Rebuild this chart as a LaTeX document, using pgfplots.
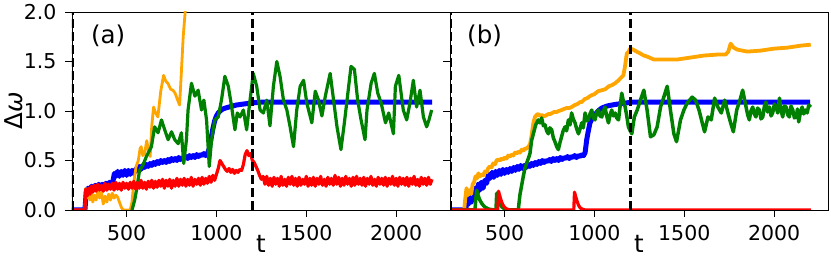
\documentclass[border=0pt]{standalone}
\usepackage{pgfplots}
\pgfplotsset{compat=1.18}
\usepackage{fontspec}
\setmainfont{DejaVu Sans}
\newcommand{\tickf}{\fontsize{20.5}{24}\selectfont}
\newcommand{\labf}{\fontsize{24.5}{28}\selectfont}
\definecolor{mplblue}{RGB}{0,0,255}
\definecolor{mplred}{RGB}{255,0,0}
\definecolor{mplgreen}{RGB}{0,128,0}
\definecolor{mplorange}{RGB}{255,165,0}
\pgfplotsset{
  panel/.style={
    scale only axis, width=378pt, height=198pt,
    xmin=196, xmax=2300, ymin=0, ymax=2,
    xtick={500,1000,1500,2000}, ytick={0,0.5,1,1.5,2},
    tick pos=left, tick align=outside, major tick length=7pt,
    every tick/.style={black, line width=0.8pt},
    axis line style={line width=0.8pt},
    tick label style={font=\tickf},
    label style={font=\labf},
    /pgf/number format/assume math mode=true,
    /pgf/number format/1000 sep={},
    xticklabel style={yshift=-5pt},
    yticklabel style={xshift=-5pt, /pgf/number format/fixed, /pgf/number format/fixed zerofill, /pgf/number format/precision=1},
    xlabel={t},
    xlabel style={at={(axis description cs:0.5,0)}, anchor=base, yshift=-43pt},
    clip=true,
  },
  blu/.style={mplblue, line width=5pt, line join=round},
  ora/.style={mplorange, line width=2.8pt, line join=round},
  gre/.style={mplgreen, line width=3.2pt, line join=round},
  rd/.style={mplred, line width=3.2pt, line join=round},
  vdash/.style={black, line width=2.5pt, dash pattern=on 9pt off 4pt},
}
\begin{document}
\begin{tikzpicture}
\begin{axis}[panel, at={(0pt,0pt)}, anchor=south west,
  ylabel={Δ\textit{ω}},
  ylabel style={at={(axis description cs:-0.132,0.5)}, anchor=base, rotate=0}]
\addplot[blu] coordinates {(196,0)(268,0)(275,0.18)(285,0.22)(295,0.2)(305,0.24)(315,0.21)(325,0.25)(335,0.22)(345,0.26)(355,0.23)(365,0.26)(375,0.24)(385,0.27)(395,0.25)(405,0.28)(415,0.26)(425,0.3)(432,0.37)(440,0.34)(450,0.39)(460,0.34)(470,0.39)(480,0.35)(490,0.4)(500,0.35)(510,0.4)(520,0.36)(530,0.4)(540,0.37)(550,0.41)(560,0.4)(570,0.44)(580,0.41)(590,0.45)(600,0.43)(610,0.46)(620,0.44)(630,0.47)(640,0.45)(650,0.48)(660,0.46)(670,0.49)(680,0.47)(690,0.5)(700,0.48)(710,0.5)(720,0.48)(730,0.51)(740,0.49)(750,0.52)(760,0.5)(770,0.52)(780,0.5)(790,0.53)(800,0.51)(810,0.53)(820,0.52)(830,0.54)(840,0.52)(850,0.55)(860,0.53)(870,0.55)(880,0.53)(890,0.56)(900,0.54)(910,0.56)(920,0.55)(930,0.57)(940,0.55)(950,0.57)(960,0.62)(970,0.72)(980,0.82)(990,0.9)(1000,0.95)(1010,0.98)(1020,1.0)(1035,1.02)(1050,1.03)(1070,1.04)(1090,1.05)(1110,1.06)(1130,1.065)(1150,1.07)(1170,1.075)(1190,1.08)(1220,1.085)(1260,1.09)(2200,1.09)};
\addplot[ora] coordinates {(196,0)(268,0)(272,0.22)(280,0.12)(288,0.2)(296,0.1)(304,0.17)(312,0.08)(320,0.15)(330,0.1)(340,0.2)(350,0.12)(360,0.18)(370,0.06)(380,0.14)(390,0.08)(400,0.16)(410,0.1)(420,0.17)(430,0.12)(440,0.15)(450,0.13)(460,0.08)(470,0.03)(480,0)(520,0)(530,0.08)(540,0.28)(553,0.44)(565,0.5)(575,0.62)(581,0.64)(590,0.55)(600,0.57)(612,0.7)(622,0.6)(631,0.54)(640,0.85)(650,1.04)(662,0.98)(674,0.94)(690,1.2)(706,1.36)(718,1.3)(730,1.28)(745,1.22)(758,1.21)(770,1.18)(782,1.12)(795,1.06)(805,1.4)(815,1.75)(828,2.05)(840,2.5)(850,3)};
\addplot[gre] coordinates {(530,0)(545,0.1)(555,0.2)(572,0.4)(590,0.45)(610,0.54)(638,0.64)(656,0.84)(675,0.78)(694,0.91)(712,0.81)(731,0.71)(750,0.79)(768,0.71)(787,0.67)(805,0.78)(818,0.47)(833,0.71)(842,1.01)(861,1.28)(880,1.15)(898,1.21)(917,1.01)(930,1.11)(945,0.91)(960,0.44)(973,0.71)(991,0.91)(1010,0.94)(1028,1.11)(1047,1.35)(1066,1.25)(1084,1.05)(1103,0.81)(1116,0.98)(1131,0.94)(1150,1.01)(1168,0.81)(1187,1.11)(1205,1.38)(1224,1.25)(1243,1.01)(1261,0.98)(1280,1.11)(1298,0.85)(1317,1.25)(1336,1.50)(1354,1.35)(1373,1.11)(1392,1.01)(1410,0.84)(1429,0.64)(1447,1.01)(1466,1.25)(1485,1.31)(1503,1.08)(1531,0.88)(1550,1.2)(1568,1.11)(1587,0.95)(1606,1.15)(1633,1.38)(1652,1.11)(1671,0.84)(1693,0.61)(1712,0.88)(1727,1.11)(1749,1.45)(1768,1.42)(1786,1.11)(1805,0.91)(1827,0.71)(1838,1.01)(1861,1.28)(1879,1.38)(1898,1.18)(1917,1.08)(1941,0.88)(1959,0.98)(1985,0.77)(1996,1.25)(2015,1.36)(2040,1.01)(2059,0.91)(2077,1.08)(2096,1.31)(2114,1.04)(2133,1.21)(2152,0.94)(2170,0.84)(2183,0.91)(2198,1.01)};
\addplot[rd] coordinates {(196,0)(268,0)(272,0.21)(280,0.14)(288,0.22)(296,0.16)(304,0.24)(312,0.18)(320,0.25)(330,0.19)(340,0.26)(350,0.2)(360,0.25)(370,0.19)(380,0.27)(390,0.2)(400,0.26)(410,0.21)(420,0.27)(430,0.2)(440,0.28)(450,0.21)(460,0.27)(470,0.2)(480,0.28)(490,0.22)(500,0.27)(510,0.21)(520,0.28)(530,0.22)(540,0.29)(550,0.21)(560,0.28)(570,0.22)(580,0.3)(590,0.22)(600,0.28)(610,0.21)(620,0.29)(630,0.23)(640,0.3)(650,0.22)(660,0.29)(670,0.23)(680,0.3)(690,0.24)(700,0.31)(710,0.22)(720,0.3)(730,0.24)(740,0.31)(750,0.22)(760,0.3)(770,0.24)(780,0.32)(790,0.24)(800,0.31)(810,0.25)(820,0.32)(830,0.24)(840,0.31)(850,0.25)(860,0.33)(870,0.24)(880,0.31)(890,0.26)(900,0.32)(910,0.25)(920,0.33)(930,0.26)(940,0.32)(950,0.27)(960,0.34)(970,0.28)(980,0.35)(990,0.3)(1000,0.36)(1010,0.42)(1020,0.5)(1030,0.47)(1040,0.44)(1050,0.41)(1060,0.39)(1070,0.42)(1080,0.38)(1090,0.41)(1100,0.37)(1110,0.4)(1120,0.38)(1130,0.41)(1140,0.4)(1150,0.46)(1160,0.56)(1170,0.6)(1180,0.55)(1190,0.57)(1200,0.5)(1210,0.48)(1220,0.44)(1230,0.4)(1240,0.35)(1250,0.31)(1260,0.34)(1270,0.26)(1280,0.34)(1290,0.25)(1300,0.32)(1310,0.24)(1320,0.33)(1330,0.26)(1340,0.32)(1350,0.24)(1360,0.34)(1370,0.25)(1380,0.31)(1390,0.24)(1400,0.33)(1410,0.26)(1420,0.34)(1430,0.25)(1440,0.32)(1450,0.24)(1460,0.33)(1470,0.25)(1480,0.31)(1490,0.26)(1500,0.34)(1510,0.24)(1520,0.32)(1530,0.25)(1540,0.33)(1550,0.24)(1560,0.32)(1570,0.26)(1580,0.34)(1590,0.25)(1600,0.31)(1610,0.24)(1620,0.33)(1630,0.26)(1640,0.32)(1650,0.25)(1660,0.35)(1670,0.26)(1680,0.33)(1690,0.24)(1700,0.32)(1710,0.25)(1720,0.34)(1730,0.26)(1740,0.32)(1750,0.24)(1760,0.33)(1770,0.25)(1780,0.34)(1790,0.26)(1800,0.32)(1810,0.25)(1820,0.33)(1830,0.24)(1840,0.32)(1850,0.26)(1860,0.34)(1870,0.25)(1880,0.31)(1890,0.24)(1900,0.33)(1910,0.26)(1920,0.32)(1930,0.25)(1940,0.33)(1950,0.24)(1960,0.32)(1970,0.26)(1980,0.34)(1990,0.25)(2000,0.32)(2010,0.24)(2020,0.33)(2030,0.26)(2040,0.32)(2050,0.25)(2060,0.33)(2070,0.24)(2080,0.32)(2090,0.26)(2100,0.34)(2110,0.25)(2120,0.31)(2130,0.24)(2140,0.33)(2150,0.26)(2160,0.32)(2170,0.25)(2180,0.33)(2190,0.26)(2200,0.31)};
\addplot[vdash] coordinates {(1200,0)(1200,2)};
\addplot[vdash] coordinates {(200,0)(200,2)};
\node[anchor=base west, inner sep=0pt, font=\labf] at (axis description cs:0.05,0.843) {(a)};
\end{axis}
\begin{axis}[panel, at={(378pt,0pt)}, anchor=south west, yticklabels={}]
\addplot[blu] coordinates {(196,0)(285,0)(290,0.13)(298,0.06)(306,0.15)(314,0.08)(322,0.18)(330,0.12)(338,0.22)(346,0.16)(354,0.26)(362,0.2)(370,0.28)(380,0.22)(390,0.3)(400,0.27)(410,0.36)(420,0.32)(430,0.38)(440,0.33)(450,0.39)(460,0.35)(470,0.4)(480,0.36)(490,0.41)(500,0.37)(510,0.41)(520,0.38)(530,0.42)(540,0.39)(550,0.43)(560,0.4)(570,0.44)(580,0.41)(590,0.45)(600,0.42)(610,0.45)(620,0.43)(630,0.46)(640,0.44)(650,0.47)(660,0.45)(670,0.48)(680,0.46)(690,0.49)(700,0.47)(710,0.5)(720,0.48)(730,0.5)(740,0.49)(750,0.51)(760,0.49)(770,0.52)(780,0.5)(790,0.52)(800,0.5)(810,0.53)(820,0.51)(830,0.53)(840,0.52)(850,0.54)(860,0.52)(870,0.54)(880,0.53)(890,0.55)(900,0.53)(910,0.55)(920,0.54)(930,0.56)(940,0.55)(948,0.58)(957,0.71)(966,0.8)(975,0.88)(989,0.93)(1003,0.96)(1020,1.0)(1041,1.03)(1070,1.05)(1096,1.06)(1130,1.07)(1171,1.08)(1210,1.09)(2200,1.09)};
\addplot[ora, line width=3.8pt] coordinates {(196,0)(275,0)(280,0.1)(288,0.22)(296,0.15)(306,0.2)(314,0.16)(322,0.26)(330,0.28)(338,0.34)(346,0.32)(354,0.37)(362,0.34)(372,0.36)(381,0.35)(390,0.39)(400,0.38)(408,0.42)(418,0.44)(427,0.43)(436,0.47)(446,0.46)(455,0.5)(464,0.51)(474,0.5)(483,0.52)(492,0.51)(501,0.53)(511,0.52)(520,0.55)(530,0.54)(539,0.56)(548,0.55)(558,0.58)(567,0.57)(576,0.59)(586,0.58)(595,0.61)(604,0.6)(613,0.62)(622,0.62)(632,0.64)(641,0.66)(650,0.75)(660,0.88)(669,0.94)(678,0.96)(687,0.97)(697,0.95)(706,0.96)(716,0.95)(725,0.95)(735,0.96)(745,0.97)(755,0.97)(765,0.98)(775,0.99)(790,0.99)(800,1.0)(817,1.01)(830,1.02)(845,1.03)(860,1.03)(873,1.04)(890,1.06)(905,1.07)(920,1.09)(929,1.09)(945,1.12)(960,1.13)(975,1.15)(985,1.16)(1000,1.17)(1020,1.2)(1041,1.21)(1060,1.22)(1080,1.25)(1096,1.26)(1115,1.28)(1134,1.31)(1150,1.34)(1161,1.36)(1170,1.45)(1180,1.58)(1190,1.6)(1199,1.63)(1215,1.62)(1235,1.6)(1256,1.58)(1275,1.56)(1293,1.55)(1331,1.52)(1386,1.52)(1461,1.52)(1535,1.54)(1609,1.56)(1684,1.57)(1730,1.57)(1745,1.6)(1758,1.68)(1775,1.64)(1795,1.62)(1851,1.6)(1925,1.61)(2000,1.63)(2074,1.64)(2148,1.66)(2204,1.67)};
\addplot[gre, line width=3.5pt] coordinates {(196,0)(335,0)(340,0.12)(345,0.2)(352,0.15)(362,0.1)(375,0.06)(390,0.03)(410,0.01)(440,0)(452,0)(456,0.17)(462,0.12)(472,0.07)(485,0.03)(500,0.01)(520,0)(576,0)(585,0.15)(595,0.25)(604,0.34)(613,0.42)(622,0.47)(632,0.52)(641,0.57)(650,0.7)(660,0.77)(673,0.86)(687,0.91)(697,0.88)(706,0.93)(716,0.85)(725,0.86)(734,0.8)(743,0.77)(752,0.83)(762,0.81)(771,0.73)(780,0.69)(790,0.64)(799,0.61)(808,0.68)(817,0.74)(826,0.8)(836,0.84)(845,0.8)(855,0.91)(864,0.86)(873,0.98)(882,0.92)(892,0.88)(901,0.82)(911,0.77)(920,0.82)(929,0.88)(938,0.83)(948,0.98)(957,0.9)(966,0.91)(975,0.97)(985,1.01)(994,0.93)(1003,0.91)(1012,0.98)(1022,1.01)(1031,0.95)(1041,0.94)(1050,1.0)(1059,1.04)(1068,0.95)(1078,0.88)(1087,0.96)(1096,1.01)(1105,0.95)(1115,0.98)(1124,0.93)(1134,0.91)(1143,1.05)(1152,1.18)(1161,1.1)(1171,1.04)(1180,0.95)(1189,0.84)(1199,0.8)(1208,0.77)(1222,0.94)(1238,1.01)(1256,1.11)(1275,1.21)(1293,1.01)(1312,0.74)(1331,0.76)(1349,0.84)(1368,1.04)(1386,1.14)(1405,1.25)(1423,1.01)(1442,0.77)(1457,0.69)(1479,0.91)(1498,1.01)(1516,1.08)(1544,1.14)(1563,1.11)(1582,1.01)(1600,0.88)(1613,0.79)(1632,0.94)(1650,0.91)(1669,1.13)(1687,1.04)(1706,0.98)(1725,1.11)(1743,0.98)(1758,0.88)(1773,0.79)(1792,1.01)(1810,1.11)(1825,1.21)(1844,1.04)(1853,0.96)(1862,0.91)(1871,1.0)(1881,1.04)(1890,0.97)(1899,0.94)(1908,1.03)(1918,1.01)(1927,0.92)(1937,0.94)(1946,1.05)(1955,1.09)(1964,0.99)(1974,1.04)(1983,0.95)(1992,0.98)(2002,1.07)(2011,1.04)(2020,0.98)(2030,1.13)(2039,1.0)(2048,0.94)(2057,1.05)(2067,1.04)(2076,0.96)(2085,0.94)(2094,1.05)(2104,1.01)(2113,0.93)(2123,0.94)(2130,1.02)(2137,0.89)(2146,0.98)(2156,1.04)(2165,0.97)(2175,1.01)(2184,0.98)(2193,1.06)(2204,1.04)};
\addplot[rd] coordinates {(196,0)(462,0)(466,0.19)(472,0.15)(480,0.1)(488,0.06)(498,0.03)(512,0.01)(530,0)(885,0)(889,0.18)(895,0.14)(903,0.09)(911,0.05)(921,0.02)(937,0.005)(950,0)(2204,0)};
\addplot[vdash] coordinates {(1200,0)(1200,2)};
\addplot[vdash] coordinates {(200,0)(200,2)};
\node[anchor=base west, inner sep=0pt, font=\labf] at (axis description cs:0.045,0.843) {(b)};
\end{axis}
\pgfresetboundingbox
\path[use as bounding box] (-72pt,-49pt) rectangle (759pt,210pt);
\end{tikzpicture}
\end{document}
